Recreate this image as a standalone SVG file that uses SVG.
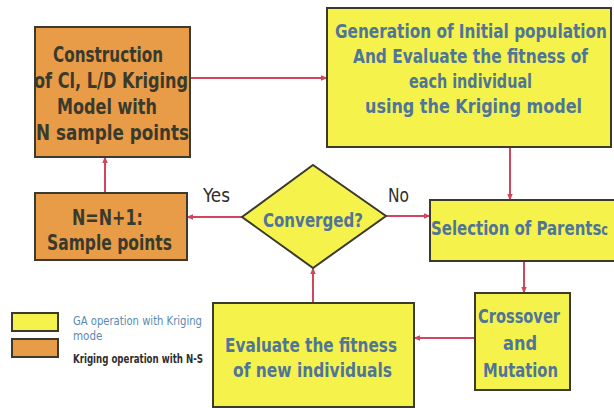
<svg xmlns="http://www.w3.org/2000/svg" width="614" height="408" viewBox="0 0 614 408">
  <defs>
    <marker id="arrow" viewBox="0 0 10 10" refX="9" refY="5" markerWidth="7" markerHeight="7" markerUnits="userSpaceOnUse" orient="auto">
      <path d="M0,1 L10,5 L0,9 z" fill="#d2455e"/>
    </marker>
  </defs>
  <style>
    .ga { fill: #f6f24c; stroke: #3b3a2c; stroke-width: 2; }
    .kr { fill: #e89c48; stroke: #3b3a2c; stroke-width: 2; }
    .bt { font-family: "DejaVu Sans Condensed", "DejaVu Sans", sans-serif; font-weight: bold; font-size: 20px; fill: #4f7598; }
    .ot { font-family: "DejaVu Sans Condensed", "DejaVu Sans", sans-serif; font-weight: bold; font-size: 22px; fill: #3a3a2c; }
    .lbl { font-family: "DejaVu Sans Condensed", "DejaVu Sans", sans-serif; font-size: 19px; fill: #2e2e2e; }
    .leg { font-family: "DejaVu Sans Condensed", "DejaVu Sans", sans-serif; font-size: 11.5px; }
    .edge { stroke: #d2455e; stroke-width: 2; fill: none; marker-end: url(#arrow); }
  </style>

  <rect width="614" height="408" fill="#ffffff"/>

  <!-- connectors -->
  <g id="connectors">
    <line class="edge" x1="190" y1="78" x2="327" y2="78"/>
    <line class="edge" x1="510" y1="147" x2="510" y2="200"/>
    <line class="edge" x1="386" y1="216" x2="430" y2="216"/>
    <line class="edge" x1="242" y1="217" x2="187" y2="217"/>
    <line class="edge" x1="105" y1="193" x2="105" y2="157"/>
    <line class="edge" x1="524" y1="261" x2="524" y2="293"/>
    <line class="edge" x1="475" y1="338" x2="414" y2="338"/>
    <line class="edge" x1="313" y1="303" x2="313" y2="268"/>
    <text class="lbl" x="203" y="202" textLength="27" lengthAdjust="spacingAndGlyphs">Yes</text>
    <text class="lbl" x="388" y="202" textLength="21" lengthAdjust="spacingAndGlyphs">No</text>
  </g>

  <!-- Kriging model construction -->
  <g id="construct">
    <rect class="kr" x="35" y="27" width="155" height="130"/>
    <text class="ot" x="53" y="62" textLength="110" lengthAdjust="spacingAndGlyphs">Construction</text>
    <text class="ot" x="34" y="88" textLength="154" lengthAdjust="spacingAndGlyphs">of Cl, L/D Kriging</text>
    <text class="ot" x="57" y="114" textLength="100" lengthAdjust="spacingAndGlyphs">Model with</text>
    <text class="ot" x="36" y="140" textLength="153" lengthAdjust="spacingAndGlyphs">N sample points</text>
  </g>

  <!-- sample point update -->
  <g id="update">
    <rect class="kr" x="35" y="193" width="152" height="67"/>
    <text class="ot" x="72" y="225" textLength="71" lengthAdjust="spacingAndGlyphs">N=N+1:</text>
    <text class="ot" x="47" y="250" textLength="125" lengthAdjust="spacingAndGlyphs">Sample points</text>
  </g>

  <!-- initial population -->
  <g id="initial">
    <rect class="ga" x="327" y="8" width="284" height="139"/>
    <text class="bt" x="335" y="38" textLength="272" lengthAdjust="spacingAndGlyphs">Generation of Initial population</text>
    <text class="bt" x="353" y="63" textLength="235" lengthAdjust="spacingAndGlyphs">And Evaluate the fitness of</text>
    <text class="bt" x="409" y="88" textLength="123" lengthAdjust="spacingAndGlyphs">each individual</text>
    <text class="bt" x="365" y="113" textLength="217" lengthAdjust="spacingAndGlyphs">using the Kriging model</text>
  </g>

  <!-- convergence test -->
  <g id="converged">
    <polygon class="ga" points="313,165 386,216 313,268 242,217"/>
    <text class="bt" x="263" y="227" textLength="100" lengthAdjust="spacingAndGlyphs">Converged?</text>
  </g>

  <!-- parent selection -->
  <g id="selection">
    <rect class="ga" x="430" y="200" width="190" height="61"/>
    <text class="bt" x="431" y="235" textLength="177" lengthAdjust="spacingAndGlyphs">Selection of Parents<tspan style="font-size:15px">c</tspan></text>
  </g>

  <!-- crossover and mutation -->
  <g id="crossover">
    <rect class="ga" x="475" y="293" width="95" height="97"/>
    <text class="bt" x="478" y="323" textLength="82" lengthAdjust="spacingAndGlyphs">Crossover</text>
    <text class="bt" x="503" y="350" textLength="34" lengthAdjust="spacingAndGlyphs">and</text>
    <text class="bt" x="483" y="377" textLength="75" lengthAdjust="spacingAndGlyphs">Mutation</text>
  </g>

  <!-- evaluation of offspring -->
  <g id="evaluate">
    <rect class="ga" x="213" y="303" width="201" height="104"/>
    <text class="bt" x="225" y="352" textLength="172" lengthAdjust="spacingAndGlyphs">Evaluate the fitness</text>
    <text class="bt" x="233" y="377" textLength="159" lengthAdjust="spacingAndGlyphs">of new individuals</text>
  </g>

  <!-- legend -->
  <g id="legend">
    <rect class="ga" x="12" y="313" width="46" height="18"/>
    <rect class="kr" x="12" y="339" width="46" height="18"/>
    <text class="leg" x="73" y="325" fill="#5b8ab0" textLength="129" lengthAdjust="spacingAndGlyphs">GA operation  with Kriging</text>
    <text class="leg" x="73" y="340" fill="#5b8ab0">mode</text>
    <text class="leg" x="73" y="363" fill="#2e2e2e" font-weight="bold" textLength="130" lengthAdjust="spacingAndGlyphs">Kriging operation with N-S</text>
  </g>
</svg>
